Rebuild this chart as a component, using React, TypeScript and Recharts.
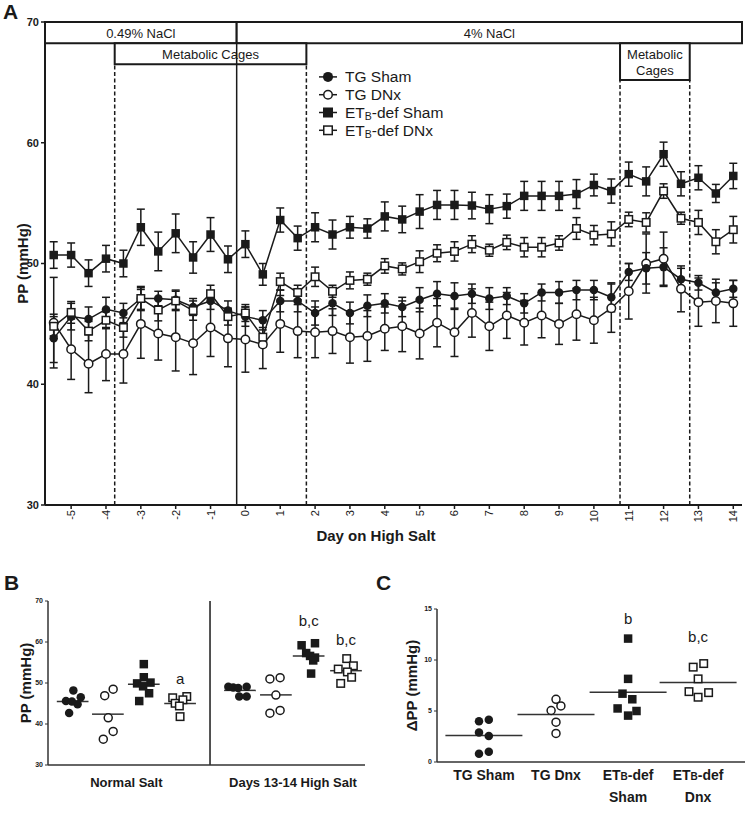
import {
  ComposedChart,
  Line,
  ErrorBar,
  XAxis,
  YAxis,
  ReferenceArea,
  ReferenceLine,
  ReferenceDot,
  Legend,
  ScatterChart,
  Scatter,
} from 'recharts'

const FONT = '"Liberation Sans", Arial, Helvetica, sans-serif'
const INK = '#1a1a1a'

// ---------- Panel A: pulse pressure by day ----------
const days = [
  -5.5, -5, -4.5, -4, -3.5, -3, -2.5, -2, -1.5, -1, -0.5, 0, 0.5, 1, 1.5, 2, 2.5, 3, 3.5, 4,
  4.5, 5, 5.5, 6, 6.5, 7, 7.5, 8, 8.5, 9, 9.5, 10, 10.5, 11, 11.5, 12, 12.5, 13, 13.5, 14,
]
const tgSham = [
  43.8, 45.6, 45.4, 46.2, 45.9, 47.1, 47.1, 47.0, 46.4, 46.9, 46.1, 45.6, 45.3, 46.9, 46.9, 45.9, 46.7, 45.9, 46.5, 46.7,
  46.4, 47.0, 47.5, 47.3, 47.5, 47.1, 47.3, 46.7, 47.6, 47.6, 47.8, 47.8, 47.2, 49.3, 49.6, 49.7, 48.7, 48.4, 47.6, 47.9,
]
const tgShamErr = [
  2.0, 1.1, 1.0, 1.0, 0.8, 1.0, 0.6, 0.8, 0.7, 0.7, 0.8, 0.8, 0.8, 0.9, 0.9, 1.0, 1.0, 0.9, 0.9, 0.8,
  0.8, 1.0, 1.0, 1.1, 0.8, 0.9, 0.7, 0.8, 0.7, 0.9, 0.8, 0.8, 1.2, 0.7, 1.3, 1.6, 0.9, 0.6, 0.8, 0.7,
]
const tgDnx = [
  45.1, 42.9, 41.7, 42.5, 42.5, 45.0, 44.2, 43.9, 43.4, 44.7, 43.8, 43.7, 43.3, 45.0, 44.4, 44.3, 44.4, 43.9, 44.0, 44.6,
  44.8, 44.2, 45.1, 44.3, 45.9, 44.8, 45.7, 45.1, 45.7, 45.0, 45.8, 45.3, 46.3, 47.7, 50.0, 50.4, 47.9, 46.8, 46.9, 46.7,
]
const tgDnxErr = [
  3.75, 2.5, 2.4, 2.2, 2.4, 2.85, 2.2, 2.8, 2.6, 2.4, 2.35, 2.7, 2.0, 2.35, 2.2, 2.1, 1.85, 2.15, 2.1, 1.8,
  2.1, 2.1, 2.0, 2.0, 2.0, 2.0, 1.9, 1.85, 1.85, 1.7, 2.15, 1.9, 2.0, 2.3, 2.45, 2.2, 1.9, 2.0, 1.8, 1.9,
]
const etbSham = [
  50.7, 50.7, 49.2, 50.4, 50.0, 53.0, 51.0, 52.5, 50.5, 52.4, 50.35, 51.6, 49.1, 53.6, 52.1, 53.0, 52.4, 53.0, 52.9, 53.9,
  53.65, 54.3, 54.85, 54.85, 54.8, 54.5, 54.75, 55.6, 55.6, 55.6, 55.75, 56.5, 56.0, 57.4, 56.8, 59.05, 56.6, 57.1, 55.8, 57.25,
]
const etbShamErr = [
  1.1, 1.0, 1.1, 1.1, 1.1, 1.5, 1.6, 1.6, 1.3, 1.4, 1.1, 1.1, 0.9, 1.0, 1.0, 1.2, 1.2, 0.9, 0.8, 1.2,
  1.1, 1.4, 1.2, 1.2, 1.1, 1.2, 1.0, 1.2, 1.2, 1.2, 1.2, 0.9, 1.0, 1.0, 1.2, 1.0, 1.0, 1.0, 0.75, 1.05,
]
const etbDnx = [
  44.8, 45.95, 44.4, 45.3, 44.7, 47.1, 46.15, 46.9, 46.1, 47.5, 45.6, 45.9, 43.9, 48.5, 47.6, 48.9, 47.7, 48.6, 48.7, 49.8,
  49.55, 50.15, 50.85, 51.0, 51.6, 51.1, 51.75, 51.35, 51.35, 51.7, 52.9, 52.35, 52.45, 53.65, 53.4, 56.0, 53.75, 53.4, 51.8, 52.8,
]
const etbDnxErr = [
  0.8, 0.9, 0.8, 0.7, 0.8, 0.9, 0.9, 0.8, 0.8, 0.7, 0.7, 0.7, 0.8, 0.7, 0.6, 0.8, 0.5, 0.7, 0.5, 0.6,
  0.5, 0.9, 0.7, 0.8, 0.7, 0.5, 0.6, 0.8, 0.8, 0.6, 0.9, 0.8, 1.0, 0.6, 0.8, 0.6, 0.5, 1.0, 1.0, 1.1,
]
const dayTicks = [-5, -4, -3, -2, -1, 0, 1, 2, 3, 4, 5, 6, 7, 8, 9, 10, 11, 12, 13, 14]
const ppTicks = [30, 40, 50, 60, 70]
const dayDomain: [number, number] = [-5.75, 14.25]
const saltSwitchDay = -0.25
const cageWindows: [number, number][] = [
  [-3.75, 1.75],
  [10.75, 12.75],
]
const legendNames = ['TG Sham', 'TG DNx', 'ETB-def Sham', 'ETB-def DNx']

// ---------- Panel B: PP per animal ----------
const bSections = ['Normal Salt', 'Days 13-14 High Salt']
const bGroupX = [0.7, 1.7, 2.72, 3.75, 5.45, 6.47, 7.4, 8.46]
const bMeans = [45.5, 42.4, 49.7, 45.0, 48.2, 47.1, 56.6, 53.0]
// [spread, value]
const bNormalTgSham = [[0.02, 48.2], [-0.19, 45.6], [0.23, 46.5], [-0.1, 42.7], [0.14, 44.8], [-0.02, 45.5]]
const bNormalTgDnx = [[-0.09, 46.9], [0.15, 48.5], [0.01, 41.5], [0.15, 38.2], [-0.13, 36.3]]
const bNormalEtbSham = [[0, 54.6], [0, 51.4], [-0.19, 49.9], [0.19, 50.1], [-0.02, 49.2], [0.15, 47.5], [-0.13, 45.6]]
const bNormalEtbDnx = [[-0.21, 46.4], [0.19, 46.7], [0.08, 45.9], [-0.14, 45.05], [-0.02, 44.4], [0, 41.8]]
const bHighTgSham = [[-0.33, 49.1], [-0.19, 48.9], [-0.05, 48.8], [0.19, 49.1], [-0.02, 46.7], [0.19, 46.7]]
const bHighTgDnx = [[-0.17, 51.0], [0.12, 51.3], [0, 47.05], [-0.17, 42.65], [0.12, 43.3]]
const bHighEtbSham = [[-0.2, 59.2], [0.18, 59.7], [-0.07, 57.3], [0.04, 56.6], [0.18, 56.2], [0.13, 55.5], [0.07, 52.3]]
const bHighEtbDnx = [[0.02, 55.95], [0.21, 54.2], [-0.22, 53.4], [0.04, 52.7], [0.16, 51.4], [-0.15, 49.9]]
const bNotes = [
  { group: 3, value: 51.0, text: 'a' },
  { group: 6, value: 65.2, text: 'b,c' },
  { group: 7, value: 60.5, text: 'b,c' },
]

// ---------- Panel C: change in PP ----------
const cGroups = ['TG Sham', 'TG Dnx', 'ETB-def\nSham', 'ETB-def\nDnx']
const cGroupX = [0.67, 1.7, 2.73, 3.73]
const cMeans = [2.6, 4.66, 6.85, 7.8]
const cTgSham = [[-0.07, 4.0], [0.07, 4.15], [-0.07, 2.9], [0.07, 2.55], [-0.07, 0.8], [0.07, 1.0]]
const cTgDnx = [[0, 6.15], [0.07, 5.5], [-0.07, 5.05], [0, 3.9], [0, 2.8]]
const cEtbSham = [[0, 12.1], [0, 8.15], [-0.08, 6.7], [0.06, 6.15], [-0.15, 5.25], [0.12, 5.0], [0, 4.55]]
const cEtbDnx = [[-0.07, 9.3], [0.08, 9.65], [0, 8.15], [-0.13, 6.9], [0.15, 6.8], [0, 6.35]]
const dppTicks = [0, 5, 10, 15]
const cNotes = [
  { group: 2, value: 14.1, text: 'b' },
  { group: 3, value: 12.3, text: 'b,c' },
]

const rowsA = days.map((day, i) => ({
  day,
  tgSham: tgSham[i],
  tgShamErr: tgShamErr[i],
  tgDnx: tgDnx[i],
  tgDnxErr: tgDnxErr[i],
  etbSham: etbSham[i],
  etbShamErr: etbShamErr[i],
  etbDnx: etbDnx[i],
  etbDnxErr: etbDnxErr[i],
}))

const toPoints = (center: number, pts: number[][]) => pts.map(([dx, y]) => ({ x: center + dx, y }))

type Kind = 'filledCircle' | 'openCircle' | 'filledSquare' | 'openSquare'

function Marker({ kind, cx, cy, size }: { kind: Kind; cx: number; cy: number; size: number }) {
  if (cx == null || cy == null) return null
  const r = size / 2
  if (kind === 'filledCircle') return <circle cx={cx} cy={cy} r={r} fill={INK} />
  if (kind === 'openCircle') return <circle cx={cx} cy={cy} r={r - 0.75} fill="#fff" stroke={INK} strokeWidth={1.5} />
  if (kind === 'filledSquare') return <rect x={cx - r} y={cy - r} width={size} height={size} fill={INK} />
  return <rect x={cx - r + 0.75} y={cy - r + 0.75} width={size - 1.5} height={size - 1.5} fill="#fff" stroke={INK} strokeWidth={1.5} />
}

const dotOf = (kind: Kind, size: number) => (p: any) => (
  <Marker key={`${kind}-${p.index}`} kind={kind} cx={p.cx} cy={p.cy} size={size} />
)
const shapeOf = (kind: Kind, size: number) => (p: any) => <Marker kind={kind} cx={p.cx} cy={p.cy} size={size} />

const legendKinds: Kind[] = ['filledCircle', 'openCircle', 'filledSquare', 'openSquare']

// legend drawn as svg text so the tight rows match the figure
function LegendA() {
  const rowH = 17.8
  return (
    <svg width={150} height={rowH * legendNames.length} style={{ display: 'block', overflow: 'visible' }}>
      {legendNames.map((name, i) => {
        const cy = rowH / 2 + i * rowH
        return (
          <g key={name}>
            <line x1={1} x2={19} y1={cy} y2={cy} stroke={INK} strokeWidth={1.5} />
            <Marker kind={legendKinds[i]} cx={10} cy={cy} size={10} />
            <text x={27} y={cy + 5.5} fontSize={15.5} fontFamily={FONT} fill={INK}>
              {name.startsWith('ETB') ? (
                <>
                  ET
                  <tspan fontSize={10.5} dy={2}>
                    B
                  </tspan>
                  <tspan dy={-2}>{name.slice(3)}</tspan>
                </>
              ) : (
                name
              )}
            </text>
          </g>
        )
      })}
    </svg>
  )
}

const boxLabel = (lines: string[]) => (props: any) => {
  const { x, y, width, height } = props.viewBox
  const cx = x + width / 2
  const lh = 16
  const top = y + height / 2 - ((lines.length - 1) * lh) / 2
  return (
    <text x={cx} y={top} textAnchor="middle" dominantBaseline="central" fontSize={13} fontFamily={FONT} fill={INK}>
      {lines.map((l, i) => (
        <tspan key={l} x={cx} dy={i === 0 ? 0 : lh}>
          {l}
        </tspan>
      ))}
    </text>
  )
}

const yTitle = (text: string, cx: number, size: number) => (props: any) => {
  const vb = props.viewBox
  const cy = vb.y + vb.height / 2
  return (
    <text
      x={cx}
      y={cy}
      transform={`rotate(-90 ${cx} ${cy})`}
      textAnchor="middle"
      dominantBaseline="central"
      fontSize={size}
      fontWeight="bold"
      fontFamily={FONT}
      fill={INK}
    >
      {text}
    </text>
  )
}

const DayTick = (p: any) => (
  <text
    x={p.x}
    y={p.y - 1}
    transform={`rotate(-90 ${p.x} ${p.y - 1})`}
    textAnchor="end"
    dominantBaseline="central"
    fontSize={11}
    fontFamily={FONT}
    fill={INK}
  >
    {p.payload.value}
  </text>
)

function DailyChart() {
  const [lo, hi] = dayDomain
  return (
    <ComposedChart width={747} height={560} data={rowsA} margin={{ top: 22, right: 5, bottom: 0, left: 5 }}>
      <XAxis
        type="number"
        dataKey="day"
        domain={dayDomain}
        ticks={dayTicks}
        interval={0}
        allowDataOverflow
        height={55}
        tickSize={4}
        tick={DayTick}
        axisLine={{ stroke: INK, strokeWidth: 2 }}
        tickLine={{ stroke: INK, strokeWidth: 1.5 }}
        label={(props: any) => (
          <text x={376} y={props.viewBox.y + 30} textAnchor="middle" dominantBaseline="central" fontSize={15} fontWeight="bold" fontFamily={FONT} fill={INK}>
            Day on High Salt
          </text>
        )}
      />
      <YAxis
        type="number"
        domain={[30, 70]}
        ticks={ppTicks}
        interval={0}
        width={40}
        tickSize={4}
        tick={{ fontSize: 11, fontWeight: 'bold', fill: INK, fontFamily: FONT }}
        axisLine={{ stroke: INK, strokeWidth: 2 }}
        tickLine={{ stroke: INK, strokeWidth: 1.5 }}
        label={yTitle('PP (mmHg)', 22, 15)}
      />
      <ReferenceArea
        x1={lo}
        x2={saltSwitchDay}
        y1={68.25}
        y2={70}
        fill="#fff"
        fillOpacity={1}
        stroke={INK}
        strokeWidth={2}
        label={boxLabel(['0.49% NaCl'])}
      />
      <ReferenceArea
        x1={saltSwitchDay}
        x2={hi}
        y1={68.25}
        y2={70}
        fill="#fff"
        fillOpacity={1}
        stroke={INK}
        strokeWidth={2}
        label={boxLabel(['4% NaCl'])}
      />
      <ReferenceArea
        x1={cageWindows[0][0]}
        x2={cageWindows[0][1]}
        y1={66.5}
        y2={68.25}
        fill="#fff"
        fillOpacity={1}
        stroke={INK}
        strokeWidth={2}
        label={boxLabel(['Metabolic Cages'])}
      />
      <ReferenceArea
        x1={cageWindows[1][0]}
        x2={cageWindows[1][1]}
        y1={65.2}
        y2={68.25}
        fill="#fff"
        fillOpacity={1}
        stroke={INK}
        strokeWidth={2}
        label={boxLabel(['Metabolic', 'Cages'])}
      />
      <ReferenceLine
        segment={[
          { x: saltSwitchDay, y: 30 },
          { x: saltSwitchDay, y: 68.25 },
        ]}
        stroke={INK}
        strokeWidth={1.5}
      />
      {cageWindows.map(([a, b], i) =>
        [a, b].map((d) => (
          <ReferenceLine
            key={`${i}-${d}`}
            segment={[
              { x: d, y: 30 },
              { x: d, y: i === 0 ? 66.5 : 65.2 },
            ]}
            stroke={INK}
            strokeWidth={1.5}
            strokeDasharray="4 2.5"
          />
        ))
      )}
      <Legend
        layout="vertical"
        align="center"
        verticalAlign="middle"
        content={() => <LegendA />}
        wrapperStyle={{ left: 318, top: 68, width: 'auto', height: 'auto' }}
      />
      <Line dataKey="tgDnx" type="linear" stroke={INK} strokeWidth={1.5} dot={dotOf('openCircle', 10)} activeDot={false} isAnimationActive={false}>
        <ErrorBar dataKey="tgDnxErr" direction="y" width={4} stroke={INK} strokeWidth={1.5} />
      </Line>
      <Line dataKey="tgSham" type="linear" stroke={INK} strokeWidth={1.5} dot={dotOf('filledCircle', 8.5)} activeDot={false} isAnimationActive={false}>
        <ErrorBar dataKey="tgShamErr" direction="y" width={4} stroke={INK} strokeWidth={1.5} />
      </Line>
      <Line dataKey="etbSham" type="linear" stroke={INK} strokeWidth={1.5} dot={dotOf('filledSquare', 8.5)} activeDot={false} isAnimationActive={false}>
        <ErrorBar dataKey="etbShamErr" direction="y" width={4} stroke={INK} strokeWidth={1.5} />
      </Line>
      <Line dataKey="etbDnx" type="linear" stroke={INK} strokeWidth={1.5} dot={dotOf('openSquare', 9)} activeDot={false} isAnimationActive={false}>
        <ErrorBar dataKey="etbDnxErr" direction="y" width={4} stroke={INK} strokeWidth={1.5} />
      </Line>
    </ComposedChart>
  )
}

const meanHalf = 0.45

const noteLabel = (text: string) => (props: any) => {
  const vb = props.viewBox
  const cx = vb.x + (vb.width || 0) / 2
  const cy = vb.y + (vb.height || 0) / 2
  return (
    <text x={cx} y={cy} textAnchor="middle" dominantBaseline="central" fontSize={15} fontFamily={FONT} fill={INK}>
      {text}
    </text>
  )
}

function SaltChart() {
  const sectionCenters = [(bGroupX[0] + bGroupX[3]) / 2, (bGroupX[4] + bGroupX[7]) / 2]
  const divider = (bGroupX[3] + bGroupX[4]) / 2
  const tgShamPts = [...toPoints(bGroupX[0], bNormalTgSham), ...toPoints(bGroupX[4], bHighTgSham)]
  const tgDnxPts = [...toPoints(bGroupX[1], bNormalTgDnx), ...toPoints(bGroupX[5], bHighTgDnx)]
  const etbShamPts = [...toPoints(bGroupX[2], bNormalEtbSham), ...toPoints(bGroupX[6], bHighEtbSham)]
  const etbDnxPts = [...toPoints(bGroupX[3], bNormalEtbDnx), ...toPoints(bGroupX[7], bHighEtbDnx)]
  return (
    <ScatterChart width={375} height={223} margin={{ top: 11, right: 10, bottom: 0, left: 18 }}>
      <XAxis
        type="number"
        dataKey="x"
        domain={[0, 9]}
        ticks={sectionCenters}
        interval={0}
        tickFormatter={(_v: number, i: number) => bSections[i]}
        tickLine={false}
        tickMargin={7}
        height={48}
        tick={{ fontSize: 13, fontWeight: 'bold', fill: INK, fontFamily: FONT }}
        axisLine={{ stroke: '#333', strokeWidth: 1.5 }}
      />
      <YAxis
        type="number"
        dataKey="y"
        domain={[30, 70]}
        ticks={ppTicks}
        interval={0}
        width={30}
        tickSize={3}
        tick={{ fontSize: 7, fontWeight: 'bold', fill: INK, fontFamily: FONT }}
        axisLine={{ stroke: '#333', strokeWidth: 1.5 }}
        tickLine={{ stroke: '#333', strokeWidth: 1 }}
        label={yTitle('PP (mmHg)', 25, 15)}
      />
      <ReferenceLine
        segment={[
          { x: divider, y: 30 },
          { x: divider, y: 70 },
        ]}
        stroke={INK}
        strokeWidth={1.5}
      />
      {bMeans.map((m, i) => (
        <ReferenceLine
          key={`m${i}`}
          segment={[
            { x: bGroupX[i] - meanHalf, y: m },
            { x: bGroupX[i] + meanHalf, y: m },
          ]}
          stroke="#333"
          strokeWidth={1.5}
        />
      ))}
      <Scatter data={tgShamPts} shape={shapeOf('filledCircle', 8.5)} isAnimationActive={false} />
      <Scatter data={tgDnxPts} shape={shapeOf('openCircle', 9.5)} isAnimationActive={false} />
      <Scatter data={etbShamPts} shape={shapeOf('filledSquare', 8.5)} isAnimationActive={false} />
      <Scatter data={etbDnxPts} shape={shapeOf('openSquare', 9)} isAnimationActive={false} />
      {bNotes.map((n) => (
        <ReferenceDot key={`${n.group}`} x={bGroupX[n.group]} y={n.value} r={0} fill="none" stroke="none" label={noteLabel(n.text)} />
      ))}
    </ScatterChart>
  )
}

const GroupTick = (p: any) => {
  const i = cGroupX.indexOf(p.payload.value)
  const lines = (cGroups[i] ?? '').split('\n')
  return (
    <text x={p.x} y={p.y} textAnchor="middle" fontSize={14} fontWeight="bold" fontFamily={FONT} fill={INK}>
      {lines.map((l, k) => (
        <tspan key={k} x={p.x} dy={k === 0 ? 10 : 22}>
          {l.startsWith('ETB') ? (
            <>
              ET<tspan fontSize={10}>B</tspan>
              {l.slice(3)}
            </>
          ) : (
            l
          )}
        </tspan>
      ))}
    </text>
  )
}

function DeltaChart() {
  return (
    <ScatterChart width={377} height={223} margin={{ top: 19, right: 2, bottom: 0, left: 37 }}>
      <XAxis
        type="number"
        dataKey="x"
        domain={[0, 4.4]}
        ticks={cGroupX}
        interval={0}
        tickLine={false}
        height={51}
        tick={GroupTick}
        axisLine={{ stroke: '#333', strokeWidth: 1.5 }}
      />
      <YAxis
        type="number"
        dataKey="y"
        domain={[0, 15]}
        ticks={dppTicks}
        interval={0}
        width={30}
        tickSize={3}
        tick={{ fontSize: 7, fontWeight: 'bold', fill: INK, fontFamily: FONT }}
        axisLine={{ stroke: '#333', strokeWidth: 1.5 }}
        tickLine={{ stroke: '#333', strokeWidth: 1 }}
        label={yTitle('\u0394PP (mmHg)', 41, 15)}
      />
      {cMeans.map((m, i) => (
        <ReferenceLine
          key={`m${i}`}
          segment={[
            { x: cGroupX[i] - 0.55, y: m },
            { x: cGroupX[i] + 0.55, y: m },
          ]}
          stroke="#333"
          strokeWidth={1.5}
        />
      ))}
      <Scatter data={toPoints(cGroupX[0], cTgSham)} shape={shapeOf('filledCircle', 8.5)} isAnimationActive={false} />
      <Scatter data={toPoints(cGroupX[1], cTgDnx)} shape={shapeOf('openCircle', 9.5)} isAnimationActive={false} />
      <Scatter data={toPoints(cGroupX[2], cEtbSham)} shape={shapeOf('filledSquare', 8.5)} isAnimationActive={false} />
      <Scatter data={toPoints(cGroupX[3], cEtbDnx)} shape={shapeOf('openSquare', 9)} isAnimationActive={false} />
      {cNotes.map((n) => (
        <ReferenceDot key={`${n.group}`} x={cGroupX[n.group]} y={n.value} r={0} fill="none" stroke="none" label={noteLabel(n.text)} />
      ))}
    </ScatterChart>
  )
}

function PanelLetter({ text, left, top }: { text: string; left: number; top: number }) {
  return (
    <div style={{ position: 'absolute', left, top, fontFamily: FONT, fontWeight: 'bold', fontSize: 21, lineHeight: '24px', color: INK }}>
      {text}
    </div>
  )
}

export default function App() {
  return (
    <div style={{ position: 'absolute', left: 0, top: 0, width: 747, height: 813, background: '#fff', fontFamily: FONT }}>
      <div style={{ position: 'absolute', left: 0, top: 0 }}>
        <DailyChart />
      </div>
      <div style={{ position: 'absolute', left: 0, top: 590 }}>
        <SaltChart />
      </div>
      <div style={{ position: 'absolute', left: 370, top: 590 }}>
        <DeltaChart />
      </div>
      <PanelLetter text="A" left={3} top={0} />
      <PanelLetter text="B" left={4} top={571} />
      <PanelLetter text="C" left={376} top={571} />
    </div>
  )
}
